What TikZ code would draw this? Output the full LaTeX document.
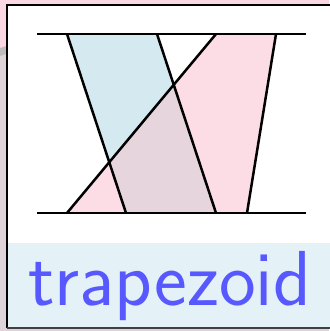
\documentclass[tikz,border=0pt]{standalone}
\begin{document}
\begin{tikzpicture}[x=1pt,y=-1pt,
  edge/.style={line width=2.5pt,black},
  lbl/.style={anchor=base west,inner sep=0pt,text=textblue,font=\sffamily\fontsize{78}{78}\selectfont}]
\definecolor{bgpink}{HTML}{F9D8E4}
\definecolor{bgmauve}{HTML}{DDD3D9}
\definecolor{bggrey}{HTML}{BDBDBD}
\definecolor{tblue}{HTML}{D5E9F0}
\definecolor{tpink}{HTML}{FDDDE5}
\definecolor{tover}{HTML}{E7D5DE}
\definecolor{band}{HTML}{E4F2F7}
\definecolor{textblue}{HTML}{5858FF}
\useasboundingbox (0,0) rectangle (329,331);
% outside background
\fill[bgmauve] (0,0) rectangle (329,331);
\fill[bgpink] (0,0) -- (329,0) -- (329,40) -- (0,48) -- cycle;
\fill[bggrey] (0,48) -- (20,42) -- (20,49) -- (0,56) -- cycle;
% frame
\fill[white] (7,5) rectangle (335,328);
\fill[band] (7,243) rectangle (335,328);
\draw[line width=2.5pt,black] (335,5) -- (7,5) -- (7,328);
\draw[line width=2.5pt,black!75] (7,328) -- (335,328);
% trapezoids
\coordinate (b1) at (67,34); \coordinate (b2) at (157,34);
\coordinate (b3) at (216,213); \coordinate (b4) at (126,213);
\coordinate (p1) at (216,34); \coordinate (p2) at (276,34);
\coordinate (p3) at (247,213); \coordinate (p4) at (67,213);
\fill[tblue] (b1) -- (b2) -- (b3) -- (b4) -- cycle;
\fill[tpink] (p1) -- (p2) -- (p3) -- (p4) -- cycle;
\begin{scope}
  \clip (b1) -- (b2) -- (b3) -- (b4) -- cycle;
  \fill[tover] (p1) -- (p2) -- (p3) -- (p4) -- cycle;
\end{scope}
\coordinate (tl) at (37,34); \coordinate (tr) at (306,34);
\coordinate (bl) at (37,213); \coordinate (br) at (306,213);
\draw[edge] (tl) -- (tr);
\draw[edge] (bl) -- (br);
\draw[edge] (b1) -- (b4);
\draw[edge] (b2) -- (b3);
\draw[edge] (p1) -- (p4);
\draw[edge] (p2) -- (p3);
\node[lbl] (t) at (28,305) {trapezoid};
\end{tikzpicture}
\end{document}
